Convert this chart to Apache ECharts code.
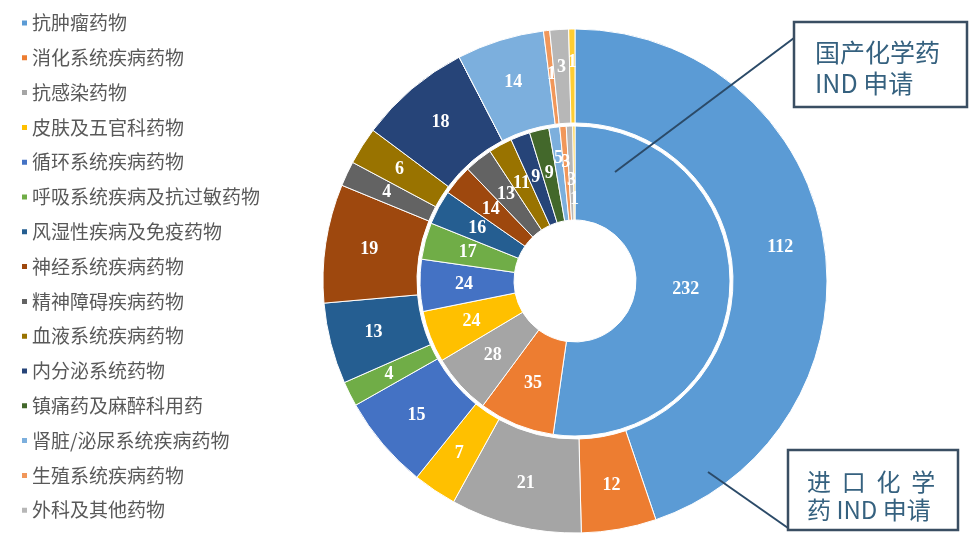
<!DOCTYPE html>
<html>
<head>
<meta charset="utf-8">
<title>化学药IND申请 治疗领域分布</title>
<script src="https://cdn.jsdelivr.net/npm/echarts@6/dist/echarts.min.js"></script>
<style>
  html, body { margin: 0; padding: 0; background: #ffffff; }
  #chart { width: 971px; height: 535px; }
</style>
</head>
<body>
<div id="chart"></div>
<script>
// Therapeutic areas (the last one is not listed in the legend)
const categories = [
  '抗肿瘤药物', '消化系统疾病药物', '抗感染药物', '皮肤及五官科药物',
  '循环系统疾病药物', '呼吸系统疾病及抗过敏药物', '风湿性疾病及免疫药物',
  '神经系统疾病药物', '精神障碍疾病药物', '血液系统疾病药物',
  '内分泌系统药物', '镇痛药及麻醉科用药', '肾脏/泌尿系统疾病药物',
  '生殖系统疾病药物', '外科及其他药物', '其他'
];
const legendNames = categories.slice(0, 15);

// Inner ring: domestic chemical drug IND applications
const domesticValues = [232, 35, 28, 24, 24, 17, 16, 14, 13, 11, 9, 9, 5, 3, 3, 1];
// Outer ring: imported chemical drug IND applications
const importValues = [112, 12, 21, 7, 15, 4, 13, 19, 4, 6, 18, 0, 14, 1, 3, 1];

const palette = [
  '#5B9BD5', '#ED7D31', '#A5A5A5', '#FFC000', '#4472C4', '#70AD47',
  '#255E91', '#9E480E', '#636363', '#997300', '#264478', '#43682B',
  '#7CAFDD', '#F1975A', '#B7B7B7', '#FFCD33'
];

const CX = 575, CY = 281;

function toData(values) {
  return values.map((v, i) => ({
    name: categories[i],
    value: v,
    itemStyle: { color: palette[i] }
  }));
}

// push crowded labels of the thin slices in or out along their radius
function radialNudge(shifts) {
  return function (p) {
    const s = shifts[p.dataIndex];
    if (!s) return {};
    const r = p.labelRect;
    const vx = r.x + r.width / 2 - CX;
    const vy = r.y + r.height / 2 - CY;
    const len = Math.hypot(vx, vy) || 1;
    return { dx: vx / len * s, dy: vy / len * s };
  };
}

const valueLabel = {
  show: true,
  position: 'inside',
  color: '#ffffff',
  fontFamily: 'Liberation Serif',
  fontWeight: 'bold',
  fontSize: 18,
  formatter: p => (p.value ? String(p.value) : '')
};

const sliceStyle = { borderColor: '#ffffff', borderWidth: 1 };

const boxText = '#35617F';
const boxLine = '#3A4E62';
const leader = '#2B4A68';

const option = {
  backgroundColor: '#ffffff',
  animation: false,
  legend: {
    data: legendNames,
    orient: 'vertical',
    left: 15,
    top: 8,
    icon: 'rect',
    itemWidth: 7,
    itemHeight: 7,
    itemGap: 14.8,
    textStyle: {
      fontFamily: 'Noto Sans CJK SC',
      fontSize: 19,
      lineHeight: 20,
      color: '#595959',
      padding: [0, 0, 0, -1]
    }
  },
  series: [
    {
      name: '国产化学药IND申请',
      type: 'pie',
      center: [CX, CY],
      radius: [61, 155],
      startAngle: 90,
      clockwise: true,
      avoidLabelOverlap: false,
      emphasis: { scale: false },
      itemStyle: sliceStyle,
      label: valueLabel,
      labelLine: { show: false },
      labelLayout: radialNudge({ 12: 13, 13: 8, 14: -10, 15: -29 }),
      data: toData(domesticValues)
    },
    {
      name: '进口化学药IND申请',
      type: 'pie',
      center: [CX, CY],
      radius: [158, 252],
      startAngle: 90,
      clockwise: true,
      avoidLabelOverlap: false,
      emphasis: { scale: false },
      itemStyle: sliceStyle,
      label: valueLabel,
      labelLine: { show: false },
      labelLayout: radialNudge({ 14: 6, 15: 11 }),
      data: toData(importValues)
    }
  ],
  graphic: [
    // callout for the inner ring
    { type: 'line', z: 100, shape: { x1: 615, y1: 172, x2: 794, y2: 38 },
      style: { stroke: leader, lineWidth: 2 } },
    { type: 'rect', z: 100, shape: { x: 794, y: 22, width: 173, height: 85 },
      style: { fill: '#ffffff', stroke: boxLine, lineWidth: 2.5 } },
    { type: 'text', z: 101, style: { text: '国产化学药', x: 815, y: 52,
      fontFamily: 'Noto Sans CJK SC', fontSize: 25, fill: boxText, verticalAlign: 'middle' } },
    { type: 'text', z: 101, style: { text: 'IND 申请', x: 815, y: 83,
      fontFamily: 'Noto Sans CJK SC', fontSize: 25, fill: boxText, verticalAlign: 'middle' } },
    // callout for the outer ring
    { type: 'line', z: 100, shape: { x1: 708, y1: 472, x2: 788, y2: 528 },
      style: { stroke: leader, lineWidth: 2 } },
    { type: 'rect', z: 100, shape: { x: 788, y: 450, width: 170, height: 80 },
      style: { fill: '#ffffff', stroke: boxLine, lineWidth: 2.5 } },
    { type: 'text', z: 101, style: { text: '进  口  化  学', x: 807, y: 482,
      fontFamily: 'Noto Sans CJK SC', fontSize: 24, fill: boxText, verticalAlign: 'middle' } },
    { type: 'text', z: 101, style: { text: '药 IND 申请', x: 807, y: 510,
      fontFamily: 'Noto Sans CJK SC', fontSize: 24, fill: boxText, verticalAlign: 'middle' } }
  ]
};

const chart = echarts.init(document.getElementById('chart'), null, { renderer: 'canvas' });
chart.setOption(option);
</script>
</body>
</html>
